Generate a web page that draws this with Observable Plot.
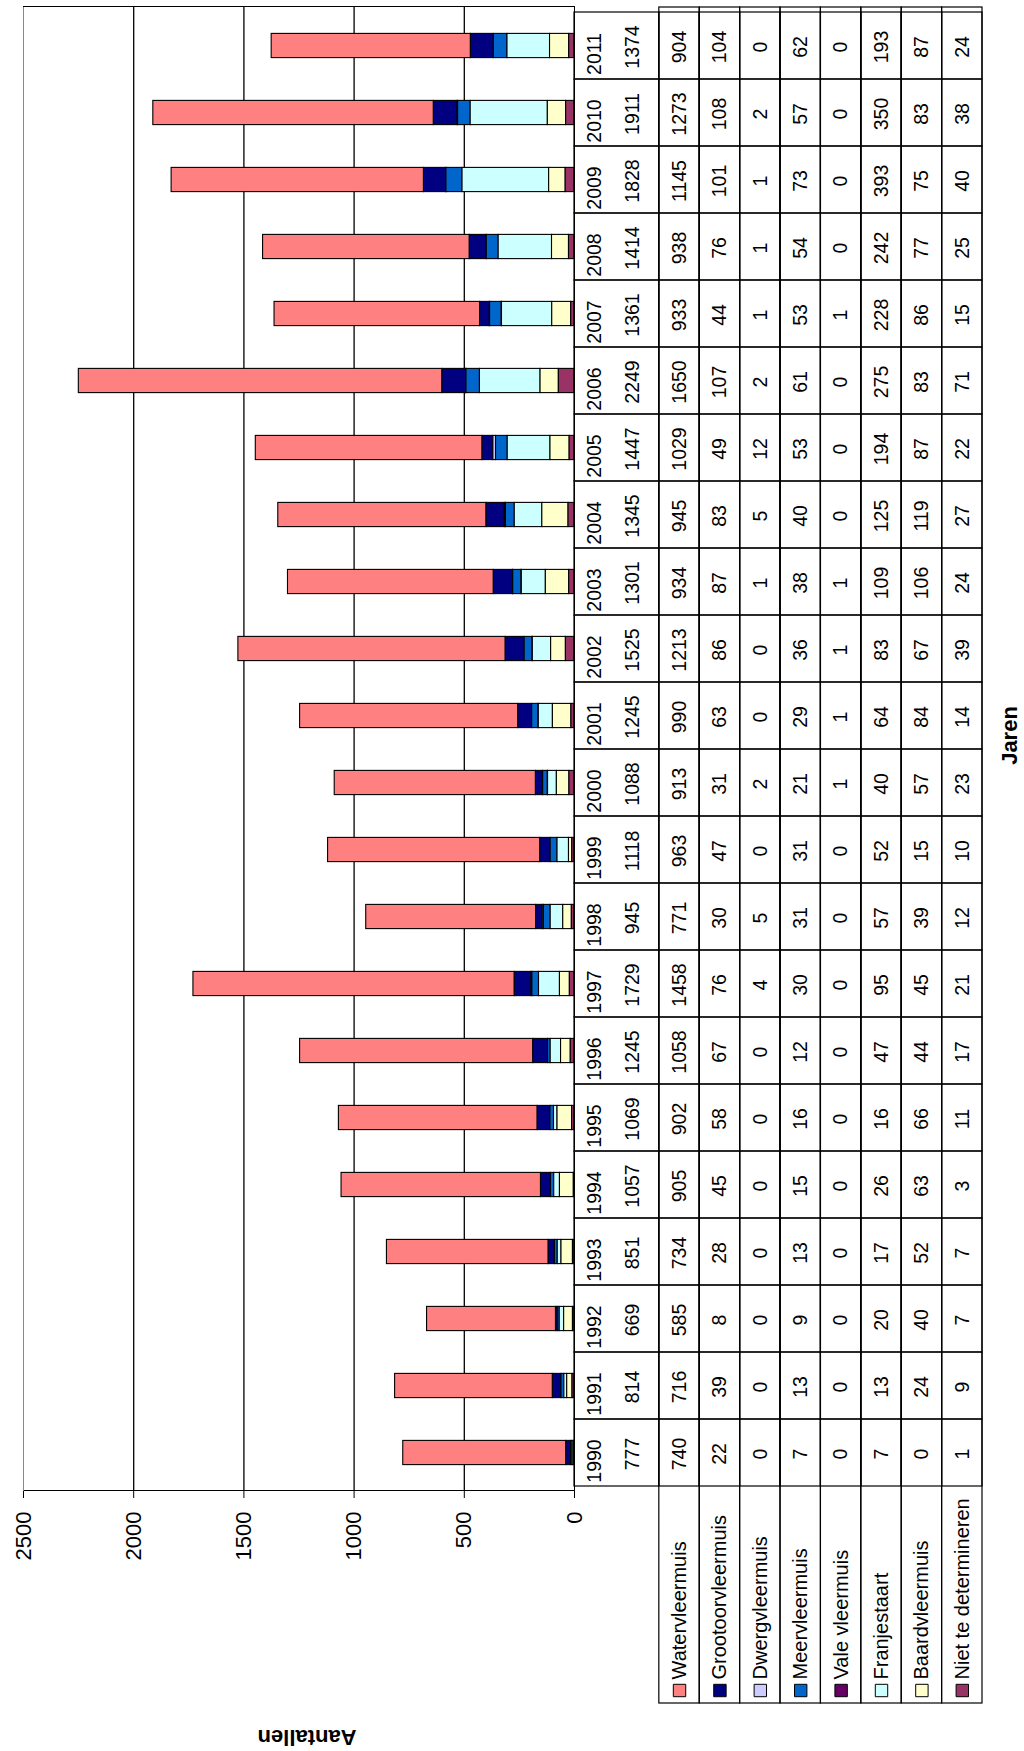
<!DOCTYPE html>
<html>
<head>
<meta charset="utf-8">
<script src="https://cdn.jsdelivr.net/npm/d3@7"></script>
<script src="https://cdn.jsdelivr.net/npm/@observablehq/plot@0.6"></script>
<style>
  html, body { margin: 0; padding: 0; width: 1024px; height: 1751px; overflow: hidden; background: #fff; }
  /* The chart is laid out landscape and turned a quarter turn counter-clockwise onto the page. */
  #rot { position: absolute; left: 0; top: 0; width: 1751px; height: 1024px;
         transform-origin: 0 0; transform: translate(0, 1751px) rotate(-90deg); }
  #rot svg { position: absolute; left: 0; top: 0; }
</style>
</head>
<body>
<div id="rot"></div>
<script>
// Wintertellingen vleermuizen per jaar
const years = ["1990","1991","1992","1993","1994","1995","1996","1997","1998","1999","2000",
               "2001","2002","2003","2004","2005","2006","2007","2008","2009","2010","2011"];
const totals = [777, 814, 669, 851, 1057, 1069, 1245, 1729, 945, 1118, 1088,
                1245, 1525, 1301, 1345, 1447, 2249, 1361, 1414, 1828, 1911, 1374];

const species = ["Watervleermuis", "Grootoorvleermuis", "Dwergvleermuis", "Meervleermuis",
                 "Vale vleermuis", "Franjestaart", "Baardvleermuis", "Niet te determineren"];

const watervleermuis    = [740, 716, 585, 734, 905, 902, 1058, 1458, 771, 963, 913, 990, 1213, 934, 945, 1029, 1650, 933, 938, 1145, 1273, 904];
const grootoorvleermuis = [22, 39, 8, 28, 45, 58, 67, 76, 30, 47, 31, 63, 86, 87, 83, 49, 107, 44, 76, 101, 108, 104];
const dwergvleermuis    = [0, 0, 0, 0, 0, 0, 0, 4, 5, 0, 2, 0, 0, 1, 5, 12, 2, 1, 1, 1, 2, 0];
const meervleermuis     = [7, 13, 9, 13, 15, 16, 12, 30, 31, 31, 21, 29, 36, 38, 40, 53, 61, 53, 54, 73, 57, 62];
const valeVleermuis     = [0, 0, 0, 0, 0, 0, 0, 0, 0, 0, 1, 1, 1, 1, 0, 0, 0, 1, 0, 0, 0, 0];
const franjestaart      = [7, 13, 20, 17, 26, 16, 47, 95, 57, 52, 40, 64, 83, 109, 125, 194, 275, 228, 242, 393, 350, 193];
const baardvleermuis    = [0, 24, 40, 52, 63, 66, 44, 45, 39, 15, 57, 84, 67, 106, 119, 87, 83, 86, 77, 75, 83, 87];
const nietTeDeterminer  = [1, 9, 7, 7, 3, 11, 17, 21, 12, 10, 23, 14, 39, 24, 27, 22, 71, 15, 25, 40, 38, 24];

const colors = ["#FF8080", "#000080", "#CCCCFF", "#0066CC", "#660066", "#CCFFFF", "#FFFFCC", "#993366"];
const valueTicks = [0, 500, 1000, 1500, 2000, 2500];

const seriesValues = [watervleermuis, grootoorvleermuis, dwergvleermuis, meervleermuis,
                      valeVleermuis, franjestaart, baardvleermuis, nietTeDeterminer];

const counts = species.flatMap((s, i) =>
  years.map((year, j) => ({year, species: s, row: i, value: seriesValues[i][j]})));

// "Niet te determineren" sits on the baseline, Watervleermuis on top.
const stackOrder = species.slice().reverse();

const W = 1751, H = 1024;
const font = "'Liberation Sans', Arial, Helvetica, sans-serif";
const colorScale = {domain: species, range: colors};

// Stacked columns with the value axis
const chart = Plot.plot({
  width: W, height: H,
  marginLeft: 260, marginRight: 7, marginTop: 23, marginBottom: 450,
  style: {fontFamily: font, fontSize: "22px", background: "transparent", overflow: "visible"},
  x: {type: "band", domain: years, padding: 0, axis: null},
  y: {domain: [0, 2500], ticks: valueTicks, tickSize: 7, tickPadding: 14,
      tickFormat: d => String(d), label: null},
  color: colorScale,
  marks: [
    Plot.ruleY(valueTicks.slice(1, -1), {stroke: "#000", strokeWidth: 1.3}),
    Plot.barY(counts, {x: "year", y: "value", fill: "species", stroke: "#000", strokeWidth: 1.1,
                       insetLeft: 21.4, insetRight: 21.4, order: stackOrder}),
    Plot.frame({stroke: "#000"}),
    Plot.ruleY(valueTicks.slice(-1), {stroke: "#8a8a8a"}),
    Plot.text(["Aantallen"], {frameAnchor: "left", dx: -247, dy: 8, rotate: -90,
                              textAnchor: "middle", lineAnchor: "middle",
                              fontWeight: "bold", fontSize: 22})
  ]
});

// Data table underneath, with the legend in its first column
const HEAD = 2.1;
const headCells = years.map(year => ({year, y1: 0, y2: HEAD}));
const bodyCells = counts.map(d => ({year: d.year, y1: HEAD + d.row, y2: HEAD + d.row + 1}));

const table = Plot.plot({
  width: W, height: H,
  marginLeft: 48, marginRight: 7, marginTop: 574, marginBottom: 42,
  style: {fontFamily: font, fontSize: "19.5px", background: "transparent", overflow: "visible"},
  x: {type: "band", domain: years, padding: 0, range: [260, 1744], axis: null},
  y: {domain: [0, HEAD + species.length], range: [574, 982], axis: null},
  color: colorScale,
  marks: [
    Plot.barY(species, {y1: (d, i) => HEAD + i, y2: (d, i) => HEAD + i + 1,
                        fill: "none", stroke: "#000", strokeWidth: 1.2}),
    Plot.barY([...headCells, ...bodyCells], {x: "year", y1: "y1", y2: "y2",
                                             fill: "none", stroke: "#000", strokeWidth: 1.2}),
    Plot.text(years, {x: d => d, y: 0.5, dx: -9}),
    Plot.text(years, {x: d => d, y: 1.44, dx: -2, text: (d, i) => String(totals[i])}),
    Plot.text(counts, {x: "year", y: d => HEAD + d.row + 0.5, dx: -2, text: d => String(d.value)}),
    Plot.dot(species, {frameAnchor: "left", y: (d, i) => HEAD + i + 0.5, dx: 12,
                       symbol: "square", r: 7, fill: d => d, stroke: "#000", strokeWidth: 1}),
    Plot.text(species, {frameAnchor: "left", y: (d, i) => HEAD + i + 0.5, dx: 23,
                        textAnchor: "start", fontSize: 20}),
    Plot.text(["Jaren"], {frameAnchor: "bottom", dx: 119, dy: 27, lineAnchor: "middle",
                          textAnchor: "middle", fontWeight: "bold", fontSize: 22})
  ]
});

const root = document.getElementById("rot");
root.appendChild(chart);
root.appendChild(table);
</script>
</body>
</html>
